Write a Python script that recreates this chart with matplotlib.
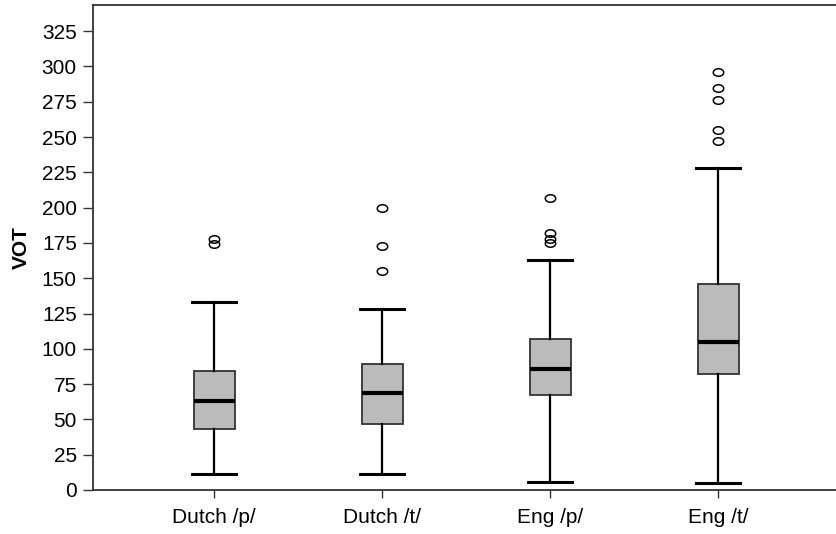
import matplotlib
matplotlib.use("Agg")
import matplotlib.pyplot as plt
import numpy as np
from matplotlib.path import Path

# five-number summaries (VOT)
groups     = ["Dutch /p/", "Dutch /t/", "Eng /p/", "Eng /t/"]
whisk_lo   = [11, 11, 6, 5]
q1         = [43, 47, 67, 82]
medians    = [63, 69, 86, 105]
q3         = [84, 89, 107, 146]
whisk_hi   = [133, 128, 163, 228]
outliers   = [
    [174, 178],
    [155, 173, 200],
    [175, 178, 182, 207],
    [247, 255, 276, 285, 296],
]

plt.rcParams["font.family"] = ["Liberation Sans", "DejaVu Sans"]

stats = []
for i, g in enumerate(groups):
    stats.append(dict(label=g, whislo=whisk_lo[i], q1=q1[i], med=medians[i],
                      q3=q3[i], whishi=whisk_hi[i], fliers=outliers[i]))

# slightly flattened open circle for the outliers
t = np.linspace(0, 2 * np.pi, 40)
ell = Path(np.column_stack([np.cos(t), 0.72 * np.sin(t)]))

fig = plt.figure(figsize=(8.37, 5.34), dpi=100)
ax = fig.add_axes([0.1108, 0.0824, 0.8892, 0.9082])

ax.bxp(stats, positions=[1, 2, 3, 4], widths=0.244, patch_artist=True,
       boxprops=dict(facecolor="#bbbbbb", edgecolor="#333333", linewidth=1.3),
       medianprops=dict(color="black", linewidth=3),
       whiskerprops=dict(color="black", linewidth=1.6),
       capprops=dict(color="black", linewidth=2.2),
       capwidths=0.26,
       flierprops=dict(marker=ell, markersize=7.5, markerfacecolor="none",
                       markeredgecolor="black", markeredgewidth=1.1))

ax.set_xlim(0.278, 4.708)
ax.set_ylim(0, 343.5)
ax.set_yticks(np.arange(0, 326, 25))
ax.set_ylabel("VOT", fontsize=15, fontweight="bold", labelpad=8)
ax.tick_params(labelsize=15, color="#333333", width=1)
ax.tick_params(axis="y", length=7.5, pad=4)
ax.tick_params(axis="x", length=6, pad=7)
for s in ["left", "bottom", "top"]:
    ax.spines[s].set_color("#333333")
    ax.spines[s].set_linewidth(1.3)
ax.spines["right"].set_visible(False)

fig.savefig("out.png", dpi=100)
